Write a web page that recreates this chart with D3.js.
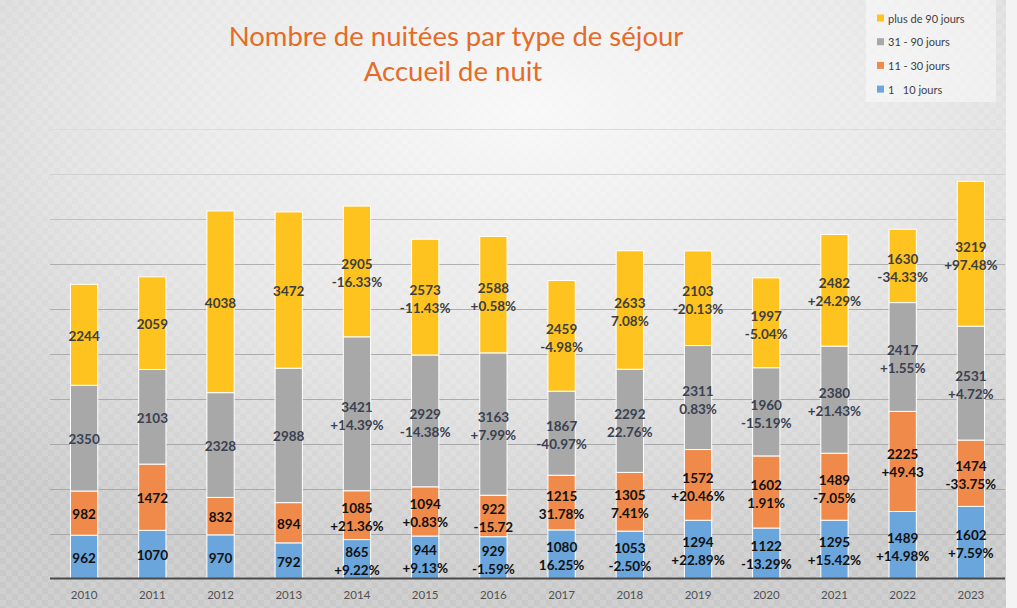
<!DOCTYPE html>
<html><head><meta charset="utf-8">
<script src="https://cdn.jsdelivr.net/npm/d3@7/dist/d3.min.js"></script>
<style>body{margin:0;padding:0;overflow:hidden}svg{display:block}</style>
</head><body>
<svg id="c" width="1017" height="608"></svg>
<script>
const years = ["2010","2011","2012","2013","2014","2015","2016","2017","2018","2019","2020","2021","2022","2023"];
const seriesNames = ["1   10 jours","11 - 30 jours","31 - 90 jours","plus de 90 jours"];
const s1_10 = [962,1070,970,792,865,944,929,1080,1053,1294,1122,1295,1489,1602];
const s11_30 = [982,1472,832,894,1085,1094,922,1215,1305,1572,1602,1489,2225,1474];
const s31_90 = [2350,2103,2328,2988,3421,2929,3163,1867,2292,2311,1960,2380,2417,2531];
const s90p = [2244,2059,4038,3472,2905,2573,2588,2459,2633,2103,1997,2482,1630,3219];
const p1_10 = ["","","","","+9.22%","+9.13%","-1.59%","16.25%","-2.50%","+22.89%","-13.29%","+15.42%","+14.98%","+7.59%"];
const p11_30 = ["","","","","+21.36%","+0.83%","-15.72","31.78%","7.41%","+20.46%","1.91%","-7.05%","+49.43","-33.75%"];
const p31_90 = ["","","","","+14.39%","-14.38%","+7.99%","-40.97%","22.76%","0.83%","-15.19%","+21.43%","+1.55%","+4.72%"];
const p90p = ["","","","","-16.33%","-11.43%","+0.58%","-4.98%","7.08%","-20.13%","-5.04%","+24.29%","-34.33%","+97.48%"];
const yTicks = [1000,2000,3000,4000,5000,6000,7000,8000,9000,10000];

const colors = ["#6aa5dc","#f08a4b","#a8a8a8","#ffc31f"];
const labelColors = ["#111111","#111111","#3a4150","#3e3e3e"];
const values = [s1_10, s11_30, s31_90, s90p];
const pcts = [p1_10, p11_30, p31_90, p90p];

const svg = d3.select("#c");
const W = 1017, H = 608;
const defs = svg.append("defs");
const rg = defs.append("radialGradient").attr("id","bg").attr("cx","52%").attr("cy","18%").attr("r","80%");
rg.append("stop").attr("offset","0%").attr("stop-color","#f8f8f8");
rg.append("stop").attr("offset","50%").attr("stop-color","#e6e6e6");
rg.append("stop").attr("offset","100%").attr("stop-color","#c9c9c9");
const pat = defs.append("pattern").attr("id","chk").attr("width",12).attr("height",12).attr("patternUnits","userSpaceOnUse");
pat.append("rect").attr("width",6).attr("height",6).attr("fill","#fff").attr("opacity",0.12);
pat.append("rect").attr("x",6).attr("y",6).attr("width",6).attr("height",6).attr("fill","#fff").attr("opacity",0.12);

svg.append("rect").attr("width",W).attr("height",H).attr("fill","url(#bg)");
svg.append("rect").attr("width",W).attr("height",H).attr("fill","url(#chk)");
svg.append("rect").attr("x",1006).attr("width",11).attr("height",H).attr("fill","#f3f3f3");

const x = d3.scaleBand().domain(years).range([50,1005]).paddingInner(0.6).paddingOuter(0.3);
const y = d3.scaleLinear().domain([0,10000]).range([578.5,128.5]);

// gridlines (fainter toward the top, as in the reference)
const gridColor = d3.scaleLinear().domain([1000,7000,9000,10000]).range(["#a6a6a6","#b0b0b0","#d2d2d2","#dcdcdc"]);
svg.append("g").selectAll("line").data(yTicks).join("line")
  .attr("x1",50).attr("x2",1005).attr("y1",d=>Math.round(y(d))+0.5).attr("y2",d=>Math.round(y(d))+0.5)
  .attr("stroke",d=>gridColor(d)).attr("stroke-width",1);

// stacked data
const rows = years.map((yr,i)=>{const o={year:yr}; values.forEach((v,k)=>o["k"+k]=v[i]); return o;});
const stack = d3.stack().keys([0,1,2,3].map(k=>"k"+k))(rows);

const gBars = svg.append("g");
stack.forEach((layer,k)=>{
  gBars.append("g").selectAll("rect").data(layer).join("rect")
    .attr("x",d=>x(d.data.year)).attr("width",x.bandwidth())
    .attr("y",d=>y(d[1])).attr("height",d=>y(d[0])-y(d[1]))
    .attr("fill",colors[k]).attr("stroke","#ffffff").attr("stroke-width",1);
});

// axis
const xAxis = d3.axisBottom(x).tickSize(0).tickPadding(12);
const ax = svg.append("g").attr("transform","translate(0,578.5)").call(xAxis);
ax.select(".domain").remove();
svg.append("line").attr("x1",50).attr("x2",1005).attr("y1",578.5).attr("y2",578.5).attr("stroke","#4a4a4a").attr("stroke-width",2);
ax.selectAll("text").attr("font-family","Lato, 'Open Sans', sans-serif").attr("font-size",11.5).attr("fill","#505050");

// labels
const gLab = svg.append("g").attr("font-family","Lato, 'Open Sans', sans-serif").attr("font-weight","bold").attr("font-size",13.5).attr("text-anchor","middle");
stack.forEach((layer,k)=>{
  layer.forEach((d,i)=>{
    const cx = x(d.data.year)+x.bandwidth()/2;
    const mid = (y(d[0])+y(d[1]))/2;
    const p = pcts[k][i];
    const t = gLab.append("text").attr("fill",labelColors[k]).attr("dominant-baseline","central");
    if(p){
      t.append("tspan").attr("x",cx).attr("y",mid-7).text(values[k][i]);
      t.append("tspan").attr("x",cx).attr("y",mid+11).text(p);
    } else {
      t.attr("x",cx).attr("y",mid+1).text(values[k][i]);
    }
  });
});

// title
const gT = svg.append("g").attr("font-family","Lato, 'Open Sans', sans-serif").attr("fill","#e56b27").attr("text-anchor","middle").attr("font-size",27.5);
gT.append("text").attr("x",456).attr("y",46).text("Nombre de nuitées par type de séjour");
gT.append("text").attr("x",453).attr("y",81).text("Accueil de nuit");

// legend
const lg = svg.append("g");
lg.append("rect").attr("x",866).attr("y",0).attr("width",130).attr("height",102).attr("fill","#ffffff").attr("opacity",0.45);
const legOrder = [3,2,1,0];
legOrder.forEach((k,j)=>{
  const cy = 18 + j*23.7;
  lg.append("rect").attr("x",877).attr("y",cy-3.5).attr("width",7).attr("height",7).attr("fill",colors[k]);
  lg.append("text").attr("x",888).attr("y",cy).attr("dominant-baseline","central")
    .style("white-space","pre")
    .attr("font-family","Lato, 'Open Sans', sans-serif").attr("font-size",11).attr("fill","#404040").text(seriesNames[k]);
});
</script>
</body></html>
